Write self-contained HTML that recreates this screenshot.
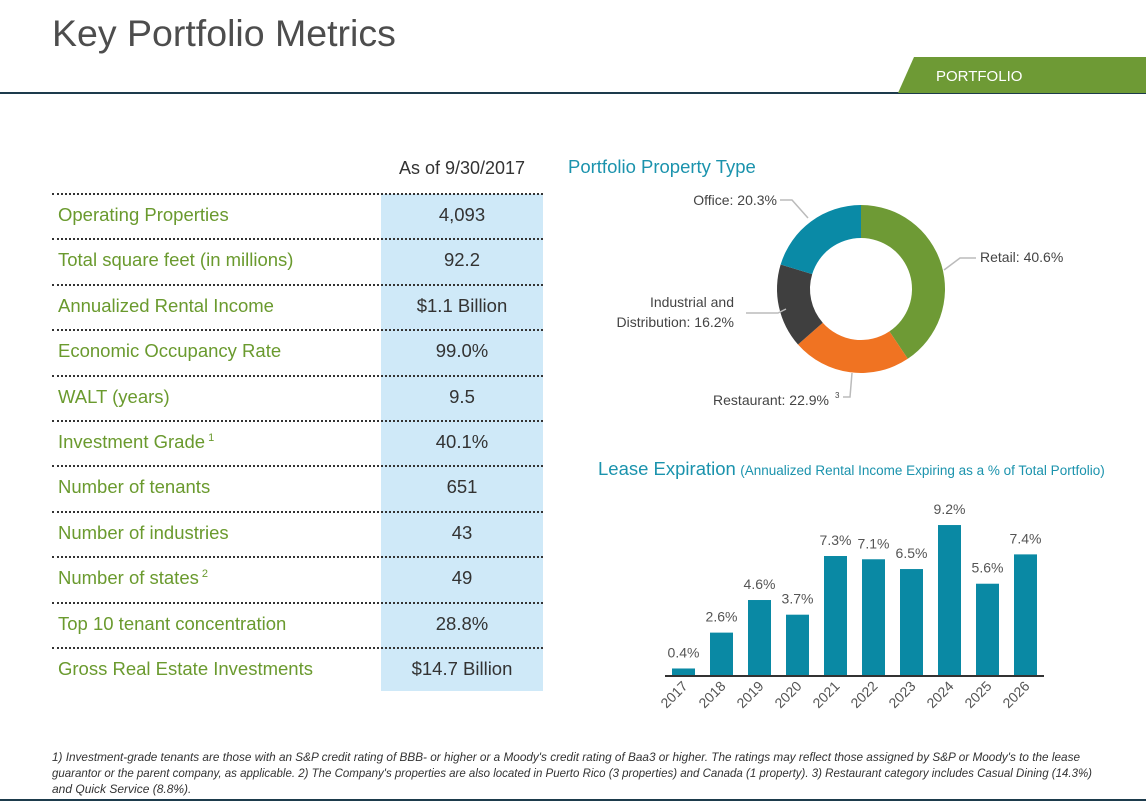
<!DOCTYPE html>
<html><head><meta charset="utf-8"><style>
body{margin:0;width:1146px;height:803px;overflow:hidden;background:#fff;font-family:"Liberation Sans",sans-serif;position:relative}
.abs{position:absolute}
.row{position:absolute;left:52px;width:491px;height:45px}
.lbl{position:absolute;left:6px;top:0;line-height:42px;height:42px;font-size:18.5px;color:#6a9a2e;white-space:nowrap}
.lbl .sp{font-size:11px;position:relative;top:-7px;line-height:0}
.val{position:absolute;left:329px;width:162px;top:0;text-align:center;line-height:42px;font-size:18.5px;color:#333}
.dot{position:absolute;left:52px;width:491px;border-top:2px dotted #333;height:0}
</style></head><body>
<div class="abs" style="left:52px;top:12px;font-size:37.5px;color:#4d4d4d">Key Portfolio Metrics</div>
<div class="abs" style="left:0;top:92px;width:1146px;height:2px;background:#1d3b4c"></div>
<svg class="abs" style="left:898px;top:57px" width="248" height="36"><polygon points="16,0 248,0 248,36 0,36" fill="#6e9a35"/><text x="38" y="24" font-size="15" fill="#fff" font-family="Liberation Sans">PORTFOLIO</text></svg>

<div class="abs" style="left:381px;top:194px;width:162px;height:497px;background:#cfe9f8"></div>
<div class="abs" style="left:381px;top:158px;width:162px;text-align:center;font-size:18px;color:#333">As of 9/30/2017</div>
<div id="tbl"></div>

<svg class="abs" style="left:560px;top:150px" width="586" height="270" id="donut">
<text x="8" y="23" font-size="18.5" fill="#1b93ad" font-family="Liberation Sans">Portfolio Property Type</text>
</svg>

<div class="abs" style="left:598px;top:458px;white-space:nowrap"><span style="font-size:18.5px;color:#1b93ad">Lease Expiration</span> <span style="font-size:13.5px;color:#1b93ad">(Annualized Rental Income Expiring as a % of Total Portfolio)</span></div>
<svg class="abs" style="left:0;top:0" width="1146" height="740" id="bars"></svg>

<svg class="abs" style="left:0;top:745px" width="1146" height="58" font-family="Liberation Sans" font-style="italic" font-size="12" fill="#333">
<text x="52" y="16" textLength="1028" lengthAdjust="spacingAndGlyphs">1) Investment-grade tenants are those with an S&amp;P credit rating of BBB- or higher or a Moody's credit rating of Baa3 or higher. The ratings may reflect those assigned by S&amp;P or Moody's to the lease</text>
<text x="52" y="32" textLength="1040" lengthAdjust="spacingAndGlyphs">guarantor or the parent company, as applicable. 2) The Company's properties are also located in Puerto Rico (3 properties) and Canada (1 property).  3) Restaurant category includes Casual Dining (14.3%)</text>
<text x="52" y="48">and Quick Service (8.8%).</text>
<rect x="0" y="54" width="1146" height="2" fill="#1d3b4c"/>
</svg>

<script>
const NS="http://www.w3.org/2000/svg";
const rowLabels=["Operating Properties","Total square feet (in millions)","Annualized Rental Income","Economic Occupancy Rate","WALT (years)","Investment Grade","Number of tenants","Number of industries","Number of states","Top 10 tenant concentration","Gross Real Estate Investments"];
const rowSup=["","","","","","1","","","2","",""];
const rowValues=["4,093","92.2","$1.1 Billion","99.0%","9.5","40.1%","651","43","49","28.8%","$14.7 Billion"];
const tbl=document.getElementById('tbl');
for(let i=0;i<rowLabels.length;i++){
  const top=193+i*45.4;
  const d=document.createElement('div');d.className='dot';d.style.top=top+'px';
  
  
  tbl.appendChild(d);
  const r=document.createElement('div');r.className='row';r.style.top=(top+1)+'px';
  
  
  r.innerHTML='<div class="lbl">'+rowLabels[i]+(rowSup[i]?'<span class="sp"> '+rowSup[i]+'</span>':'')+'</div><div class="val">'+rowValues[i]+'</div>';
  tbl.appendChild(r);
}

// donut
const sliceNames=["Retail","Restaurant","Industrial and Distribution","Office"];
const sliceValues=[40.6,22.9,16.2,20.3];
const sliceColors=["#6e9a35","#f07322","#3f3f3f","#0a8aa6"];
const dn=document.getElementById('donut');
const cx=301,cy=139,R=84,r0=51;
let tot=sliceValues.reduce((a,b)=>a+b,0),acc=0;
function pt(rad,a){return [cx+rad*Math.sin(a),cy-rad*Math.cos(a)];}
sliceValues.forEach((v,i)=>{
  const a0=acc/tot*2*Math.PI;acc+=v;const a1=acc/tot*2*Math.PI;
  const lg=(a1-a0)>Math.PI?1:0;
  const p1=pt(R,a0),p2=pt(R,a1),p3=pt(r0,a1),p4=pt(r0,a0);
  const p=document.createElementNS(NS,'path');
  p.setAttribute('d',`M${p1}A${R},${R} 0 ${lg} 1 ${p2}L${p3}A${r0},${r0} 0 ${lg} 0 ${p4}Z`);
  p.setAttribute('fill',sliceColors[i]);
  
  
  dn.appendChild(p);
});
const leaders=[["M384,120 L400,108 L416,108","Retail: 40.6%",420,112,"start"],
 ["M220,50 L232,50 L248,68","Office: 20.3%",217,55,"end"],
 ["M186,163 L218,163 L226,159","Industrial and",174,157,"end"],
 ["M292,223 L290,247 L283,247","Restaurant: 22.9%",269,255,"end"]];
leaders.forEach(l=>{
  const p=document.createElementNS(NS,'path');p.setAttribute('d',l[0]);p.setAttribute('stroke','#bbb');p.setAttribute('stroke-width','1.5');p.setAttribute('fill','none');
  
  
  dn.appendChild(p);
  const t=document.createElementNS(NS,'text');t.setAttribute('x',l[2]);t.setAttribute('y',l[3]);t.setAttribute('text-anchor',l[4]);t.setAttribute('font-size','14');t.setAttribute('fill','#444');t.textContent=l[1];
  
  
  dn.appendChild(t);
});
const t2=document.createElementNS(NS,'text');t2.setAttribute('x',174);t2.setAttribute('y',177);t2.setAttribute('text-anchor','end');t2.setAttribute('font-size','14');t2.setAttribute('fill','#444');t2.textContent='Distribution: 16.2%';


dn.appendChild(t2);
const sup=document.createElementNS(NS,'text');sup.setAttribute('x',275);sup.setAttribute('y',248);sup.setAttribute('font-size','8');sup.setAttribute('fill','#444');sup.textContent='3';


dn.appendChild(sup);

// bars
const years=["2017","2018","2019","2020","2021","2022","2023","2024","2025","2026"];
const pct=[0.4,2.6,4.6,3.7,7.3,7.1,6.5,9.2,5.6,7.4];
const bs=document.getElementById('bars');
const base=675,pxPer=16.3,x0=672,step=38,bw=23;
const yS=v=>base-v*pxPer, xS=i=>x0+i*step;
years.forEach((y,i)=>{
  const v=pct[i];
  const rc=document.createElementNS(NS,'rect');
  rc.setAttribute('x',xS(i));rc.setAttribute('y',yS(v));rc.setAttribute('width',bw);rc.setAttribute('height',base-yS(v));rc.setAttribute('fill','#0a89a4');
  
  
  bs.appendChild(rc);
  const t=document.createElementNS(NS,'text');
  t.setAttribute('x',xS(i)+bw/2);t.setAttribute('y',yS(v)-11);t.setAttribute('text-anchor','middle');t.setAttribute('font-size','14');t.setAttribute('fill','#555');t.textContent=v.toFixed(1)+'%';
  
  
  bs.appendChild(t);
  const yl=document.createElementNS(NS,'text');
  const lx=xS(i)+bw/2+5,ly=base+12;
  yl.setAttribute('transform',`translate(${lx},${ly}) rotate(-45)`);yl.setAttribute('text-anchor','end');yl.setAttribute('font-size','14');yl.setAttribute('fill','#555');yl.textContent=y;
  
  
  bs.appendChild(yl);
});
const ax=document.createElementNS(NS,'line');
ax.setAttribute('x1',665);ax.setAttribute('x2',1044);ax.setAttribute('y1',base+1);ax.setAttribute('y2',base+1);ax.setAttribute('stroke','#333');ax.setAttribute('stroke-width','2');


bs.appendChild(ax);
</script>
</body></html>
